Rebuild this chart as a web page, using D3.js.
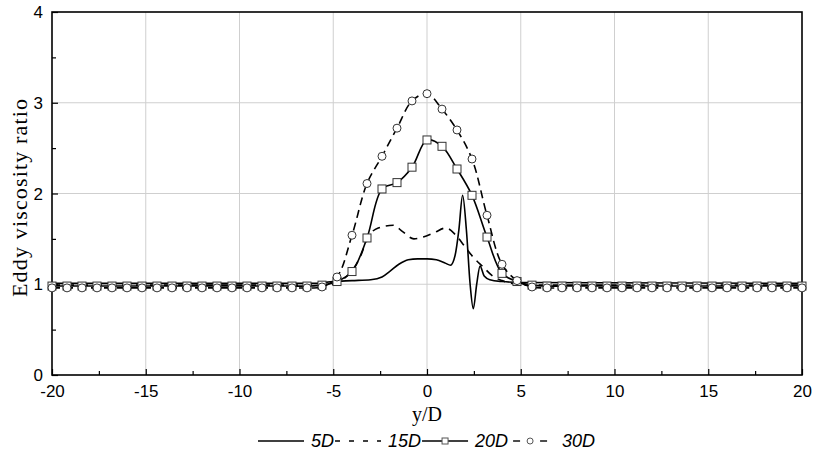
<!DOCTYPE html>
<html>
<head>
<meta charset="utf-8">
<script src="https://cdn.jsdelivr.net/npm/d3@7"></script>
<style>
  body { margin: 0; background: #fff; }
  svg { display: block; }
</style>
</head>
<body>
<div id="chart"></div>
<script>
// data ----------------------------------------------------------
const series = ['5D', '15D', '20D', '30D'];

// 20D and 30D share the marker stations (every 0.8 D)
const xMarked = [-20, -19.2, -18.4, -17.6, -16.8, -16, -15.2, -14.4, -13.6, -12.8,
  -12, -11.2, -10.4, -9.6, -8.8, -8, -7.2, -6.4, -5.6, -4.8,
  -4, -3.2, -2.4, -1.6, -0.8, 0, 0.8, 1.6, 2.4, 3.2,
  4, 4.8, 5.6, 6.4, 7.2, 8, 8.8, 9.6, 10.4, 11.2,
  12, 12.8, 13.6, 14.4, 15.2, 16, 16.8, 17.6, 18.4, 19.2, 20];

const y30D = [0.96, 0.96, 0.96, 0.96, 0.96, 0.96, 0.96, 0.96, 0.96, 0.96,
  0.96, 0.96, 0.96, 0.96, 0.96, 0.96, 0.96, 0.96, 0.97, 1.08,
  1.54, 2.11, 2.41, 2.72, 3.02, 3.10, 2.93, 2.70, 2.38, 1.76,
  1.22, 1.04, 0.97, 0.96, 0.96, 0.96, 0.96, 0.96, 0.96, 0.96,
  0.96, 0.96, 0.96, 0.96, 0.96, 0.96, 0.96, 0.96, 0.96, 0.96, 0.96];

const y20D = [0.98, 0.98, 0.98, 0.98, 0.98, 0.98, 0.98, 0.98, 0.98, 0.98,
  0.98, 0.98, 0.98, 0.98, 0.98, 0.98, 0.98, 0.98, 0.99, 1.03,
  1.14, 1.51, 2.05, 2.12, 2.29, 2.59, 2.52, 2.27, 1.98, 1.52,
  1.12, 1.03, 0.99, 0.98, 0.98, 0.98, 0.98, 0.98, 0.98, 0.98,
  0.98, 0.98, 0.98, 0.98, 0.98, 0.98, 0.98, 0.98, 0.98, 0.98, 0.98];

const x15D = [-20, -5.5, -5, -4.5, -4, -3.5, -3.2, -2.6, -1.8, -1.3, -0.7, -0.2,
  0.4, 1, 1.5, 2, 2.5, 3, 3.5, 4, 4.5, 5, 20];
const y15D = [0.99, 0.99, 1.0, 1.05, 1.15, 1.33, 1.5, 1.62, 1.65, 1.58, 1.5, 1.52,
  1.57, 1.62, 1.55, 1.42, 1.29, 1.19, 1.09, 1.04, 1.01, 0.99, 0.99];

const x5D = [-20, -6, -5, -4, -3, -2.4, -2, -1.5, -1, -0.5, 0, 0.5, 1, 1.25,
  1.5, 1.7, 1.9, 2.1, 2.3, 2.47, 2.65, 2.83, 3.05, 3.35, 4, 5, 20];
const y5D = [1.01, 1.01, 1.03, 1.04, 1.05, 1.08, 1.14, 1.22, 1.27, 1.28, 1.28, 1.27, 1.23, 1.21,
  1.32, 1.6, 1.98, 1.6, 1.0, 0.73, 1.0, 1.2, 1.09, 1.05, 1.03, 1.02, 1.01];

const xTicks = [-20, -15, -10, -5, 0, 5, 10, 15, 20];
const yTicks = [0, 1, 2, 3, 4];

// chart ---------------------------------------------------------
const width = 816, height = 452;
const pLeft = 52, pRight = 802, pTop = 12, pBottom = 375;

const svg = d3.select('#chart').append('svg')
  .attr('width', width)
  .attr('height', height);

const x = d3.scaleLinear().domain([-20, 20]).range([pLeft, pRight]);
const y = d3.scaleLinear().domain([0, 4]).range([pBottom, pTop]);

// grid
svg.append('g')
  .selectAll('line')
  .data(xTicks.slice(1, -1))
  .join('line')
    .attr('x1', d => x(d)).attr('x2', d => x(d))
    .attr('y1', pTop).attr('y2', pBottom)
    .attr('stroke', '#cfcfcf')
    .attr('stroke-width', 1);

svg.append('g')
  .selectAll('line')
  .data(yTicks.slice(1, -1))
  .join('line')
    .attr('x1', pLeft).attr('x2', pRight)
    .attr('y1', d => y(d)).attr('y2', d => y(d))
    .attr('stroke', '#cfcfcf')
    .attr('stroke-width', 1);

// axes, ticks inside (plain hyphen for negatives, as in the figure)
const fmt = d => String(d);
const xAxis = svg.append('g')
  .attr('transform', `translate(0,${pBottom})`)
  .call(d3.axisBottom(x).tickValues(xTicks).tickSize(-6).tickPadding(0).tickFormat(fmt));
const xMinor = svg.append('g')
  .attr('transform', `translate(0,${pBottom})`)
  .call(d3.axisBottom(x).tickValues([-17.5, -12.5, -7.5, -2.5, 2.5, 7.5, 12.5, 17.5]).tickSize(-4).tickFormat(''));
const yAxis = svg.append('g')
  .attr('transform', `translate(${pLeft},0)`)
  .call(d3.axisLeft(y).tickValues(yTicks).tickSize(-6).tickPadding(9).tickFormat(fmt));
const yMinor = svg.append('g')
  .attr('transform', `translate(${pLeft},0)`)
  .call(d3.axisLeft(y).tickValues([0.5, 1.5, 2.5, 3.5]).tickSize(-4).tickFormat(''));

[xAxis, xMinor, yAxis, yMinor].forEach(g => {
  g.select('.domain').remove();
  g.selectAll('.tick line').attr('stroke', '#000').attr('stroke-width', 1.2);
  g.selectAll('text')
    .attr('font-family', 'Liberation Sans, Arial, sans-serif')
    .attr('font-size', '17px')
    .attr('fill', '#000');
});
xAxis.selectAll('text').attr('dy', null).attr('y', 22);
yAxis.selectAll('text').attr('dy', '0.33em');

// frame
svg.append('rect')
  .attr('x', pLeft).attr('y', pTop)
  .attr('width', pRight - pLeft).attr('height', pBottom - pTop)
  .attr('fill', 'none')
  .attr('stroke', '#000')
  .attr('stroke-width', 1.6);

// curves
const pts = (xs, ys) => xs.map((v, i) => [v, ys[i]]);
const line = curve => d3.line().x(d => x(d[0])).y(d => y(d[1])).curve(curve);

const plot = svg.append('g');

plot.append('path')
  .datum(pts(x5D, y5D))
  .attr('d', line(d3.curveMonotoneX))
  .attr('fill', 'none').attr('stroke', '#000').attr('stroke-width', 1.6);

plot.append('path')
  .datum(pts(x15D, y15D))
  .attr('d', line(d3.curveMonotoneX))
  .attr('fill', 'none').attr('stroke', '#000').attr('stroke-width', 1.6)
  .attr('stroke-dasharray', '8,6');

const d20 = pts(xMarked, y20D);
plot.append('path')
  .datum(d20)
  .attr('d', line(d3.curveCatmullRom))
  .attr('fill', 'none').attr('stroke', '#000').attr('stroke-width', 1.6);
plot.append('g')
  .selectAll('rect')
  .data(d20)
  .join('rect')
    .attr('x', d => x(d[0]) - 4).attr('y', d => y(d[1]) - 4)
    .attr('width', 8).attr('height', 8)
    .attr('fill', '#fff').attr('stroke', '#333').attr('stroke-width', 1);

const d30 = pts(xMarked, y30D);
plot.append('path')
  .datum(d30)
  .attr('d', line(d3.curveCatmullRom))
  .attr('fill', 'none').attr('stroke', '#000').attr('stroke-width', 1.6)
  .attr('stroke-dasharray', '8,5');
plot.append('g')
  .selectAll('circle')
  .data(d30)
  .join('circle')
    .attr('cx', d => x(d[0])).attr('cy', d => y(d[1]))
    .attr('r', 4)
    .attr('fill', '#fff').attr('stroke', '#333').attr('stroke-width', 1);

// axis titles
svg.append('text')
  .attr('x', (pLeft + pRight) / 2)
  .attr('y', 421)
  .attr('text-anchor', 'middle')
  .attr('font-family', 'Liberation Serif, Times New Roman, serif')
  .attr('font-size', '20px')
  .text('y/D');

svg.append('text')
  .attr('transform', 'translate(27,198) rotate(-90)')
  .attr('text-anchor', 'middle')
  .attr('font-family', 'Liberation Serif, Times New Roman, serif')
  .attr('font-size', '22px')
  .attr('textLength', 198)
  .text('Eddy viscosity ratio');

// legend
const legend = svg.append('g').attr('transform', 'translate(0,441)');
let cx = 258;
series.forEach(name => {
  const g = legend.append('g').attr('transform', `translate(${cx},0)`);
  if (name === '5D') {
    g.append('line').attr('x1', 0).attr('x2', 46).attr('stroke', '#000').attr('stroke-width', 1.4);
  } else if (name === '15D') {
    g.append('line').attr('x1', 0).attr('x2', 46).attr('stroke', '#000').attr('stroke-width', 1.4)
      .attr('stroke-dasharray', '5,9');
  } else if (name === '20D') {
    g.append('line').attr('x1', 0).attr('x2', 46).attr('stroke', '#000').attr('stroke-width', 1.4);
    g.append('rect').attr('x', 20).attr('y', -3).attr('width', 6).attr('height', 6)
      .attr('fill', '#fff').attr('stroke', '#555');
  } else {
    g.append('line').attr('x1', 4).attr('x2', 11).attr('stroke', '#000').attr('stroke-width', 1.4);
    g.append('line').attr('x1', 31).attr('x2', 38).attr('stroke', '#000').attr('stroke-width', 1.4);
    g.append('circle').attr('cx', 21).attr('cy', 0).attr('r', 3)
      .attr('fill', '#fff').attr('stroke', '#555');
  }
  const t = g.append('text')
    .attr('x', 53).attr('y', 6)
    .attr('font-family', 'Liberation Sans, Arial, sans-serif')
    .attr('font-style', 'italic')
    .attr('font-size', '18px')
    .text(name);
  cx += 53 + t.node().getComputedTextLength() + 1;
});
</script>
</body>
</html>
